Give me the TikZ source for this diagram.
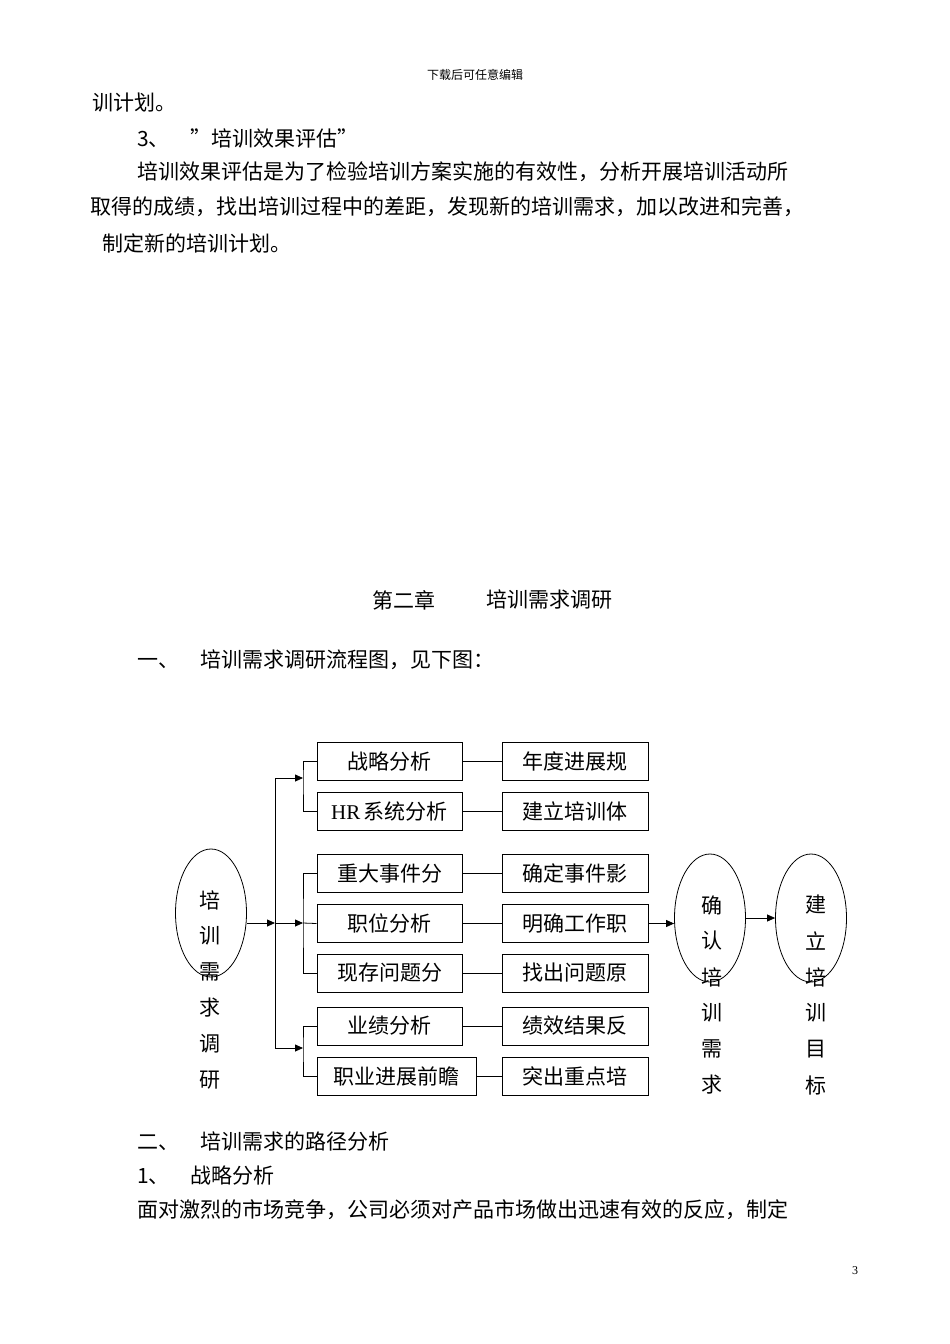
\documentclass[tikz,border=0pt]{standalone}
\usepackage{fontspec}
\setmainfont{Liberation Serif}
\newfontfamily\cjk{Noto Sans CJK SC}
\usetikzlibrary{arrows.meta}
\begin{document}
\begin{tikzpicture}[x=1pt,y=-1pt,
  txt/.style={font=\cjk\fontsize{21}{24}\selectfont,inner sep=0pt,anchor=west},
  bx/.style={draw,line width=1pt,minimum height=38pt,inner sep=0pt,font=\cjk\fontsize{21}{24}\selectfont},
  ell/.style={draw,line width=0.8pt,ellipse,minimum width=71pt,minimum height=128pt,inner sep=0pt},
  vt/.style={font=\cjk\fontsize{21}{24}\selectfont,inner sep=0pt},
  ln/.style={line width=0.8pt},
  ar/.style={line width=0.8pt,-{Triangle[length=8pt,width=7pt]}}]
\useasboundingbox (0,0) rectangle (950,1344);
\usetikzlibrary{shapes.geometric}
% header and body text
\node[font=\cjk\fontsize{12}{14}\selectfont] (hd) at (475,75) {下载后可任意编辑};
\node[txt] (t1) at (92,103) {训计划。};
\node[txt] (t2) at (137,138) {3、\quad ”培训效果评估”};
\node[txt] (t3) at (137,172) {培训效果评估是为了检验培训方案实施的有效性，分析开展培训活动所};
\node[txt] (t4) at (90,207) {取得的成绩，找出培训过程中的差距，发现新的培训需求，加以改进和完善，};
\node[txt] (t5) at (102,243) {制定新的培训计划。};
\node[txt] (c1) at (372,600) {第二章};
\node[txt] (c2) at (486,600) {培训需求调研};
\node[txt] (s1) at (137,660) {一、\quad 培训需求调研流程图，见下图：};
\node[txt] (s2) at (137,1141) {二、\quad 培训需求的路径分析};
\node[txt] (s3) at (137,1175) {1、\quad 战略分析};
\node[txt] (s4) at (137,1210) {面对激烈的市场竞争，公司必须对产品市场做出迅速有效的反应，制定};
\node[font=\fontsize{12}{14}\selectfont] (pg) at (855,1271) {3};
% boxes column 1
\node[bx,minimum width=145pt] (a1) at (389.5,761.5) {战略分析};
\node[bx,minimum width=145pt] (a2) at (389.5,811) {\fontspec{Liberation Serif}HR\,\cjk 系统分析};
\node[bx,minimum width=145pt] (a3) at (389.5,873.5) {重大事件分};
\node[bx,minimum width=145pt] (a4) at (389.5,923.5) {职位分析};
\node[bx,minimum width=145pt] (a5) at (389.5,973) {现存问题分};
\node[bx,minimum width=145pt] (a6) at (389.5,1026) {业绩分析};
\node[bx,minimum width=159pt] (a7) at (396.5,1076) {职业进展前瞻};
% boxes column 2
\node[bx,minimum width=146pt] (b1) at (575,761.5) {年度进展规};
\node[bx,minimum width=146pt] (b2) at (575,811) {建立培训体};
\node[bx,minimum width=146pt] (b3) at (575,873.5) {确定事件影};
\node[bx,minimum width=146pt] (b4) at (575,923.5) {明确工作职};
\node[bx,minimum width=146pt] (b5) at (575,973) {找出问题原};
\node[bx,minimum width=146pt] (b6) at (575,1026) {绩效结果反};
\node[bx,minimum width=146pt] (b7) at (575,1076) {突出重点培};
\foreach \i in {1,...,7} {\draw[ln] (a\i.east) -- (b\i.west);}
% ellipses
\node[ell] (e1) at (211,913) {};
\node[ell] (e2) at (710,918) {};
\node[ell] (e3) at (811,918) {};
\foreach \c [count=\k] in {培,训,需,求,调,研} {\node[vt] (v1\k) at (210,864+36*\k) {\c};}
\foreach \c [count=\k] in {确,认,培,训,需,求} {\node[vt] (v2\k) at (712,869+36*\k) {\c};}
\foreach \c [count=\k] in {建,立,培,训,目,标} {\node[vt] (v3\k) at (816,869+36*\k) {\c};}
% trunk
\coordinate (tr) at (275,923);
\coordinate (tt) at (275,778);
\coordinate (tb) at (275,1048);
\draw[ar] (e1.east |- tr) -- (tr);
\draw[ln] (tt) -- (tb);
\coordinate (g1) at (303,778);
\coordinate (g2) at (303,923);
\coordinate (g3) at (303,1048);
\draw[ar] (tt) -- (g1);
\draw[ar] (tr) -- (g2);
\draw[ar] (tb) -- (g3);
\draw[ln] (a1.west) -| (g1) |- (a2.west);
\draw[ln] (a3.west) -| (g2) |- (a5.west);
\draw[ln] (g2) -- (a4.west);
\draw[ln] (a6.west) -| (g3) |- (a7.west);
\draw[ar] (b4.east) -- (b4.east -| e2.west);
\draw[ar] (e2.east) -- (e3.west);
\end{tikzpicture}
\end{document}
